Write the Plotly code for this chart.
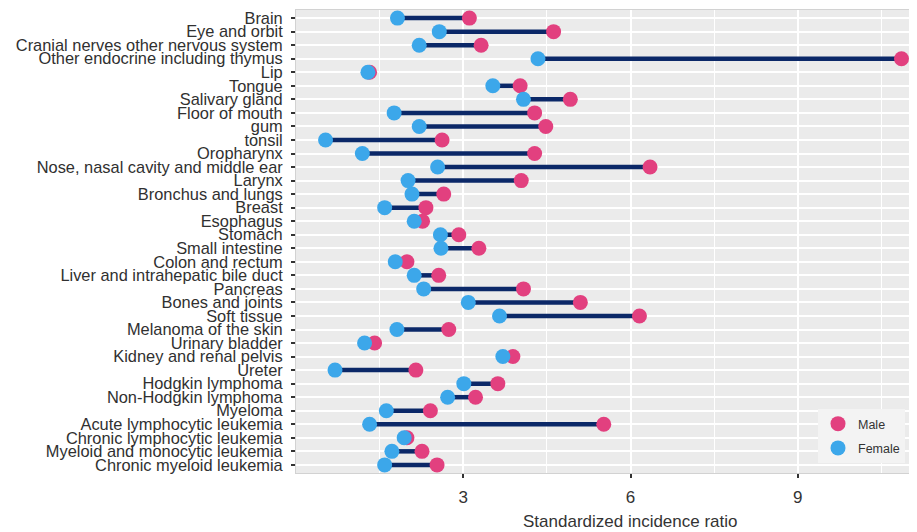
import plotly.graph_objects as go

categories = [
    "Brain", "Eye and orbit", "Cranial nerves other nervous system",
    "Other endocrine including thymus", "Lip", "Tongue", "Salivary gland",
    "Floor of mouth", "gum", "tonsil", "Oropharynx",
    "Nose, nasal cavity and middle ear", "Larynx", "Bronchus and lungs",
    "Breast", "Esophagus", "Stomach", "Small intestine", "Colon and rectum",
    "Liver and intrahepatic bile duct", "Pancreas", "Bones and joints",
    "Soft tissue", "Melanoma of the skin", "Urinary bladder",
    "Kidney and renal pelvis", "Ureter", "Hodgkin lymphoma",
    "Non-Hodgkin lymphoma", "Myeloma", "Acute lymphocytic leukemia",
    "Chronic lymphocytic leukemia", "Myeloid and monocytic leukemia",
    "Chronic myeloid leukemia",
]

male = [3.11, 4.62, 3.32, 10.86, 1.32, 4.02, 4.92, 4.28, 4.48, 2.62, 4.28,
        6.35, 4.04, 2.65, 2.33, 2.27, 2.92, 3.28, 1.99, 2.56, 4.08, 5.10,
        6.16, 2.74, 1.41, 3.89, 2.15, 3.62, 3.22, 2.41, 5.52, 1.99, 2.26,
        2.53]

female = [1.82, 2.57, 2.21, 4.34, 1.29, 3.53, 4.08, 1.76, 2.21, 0.53, 1.19,
          2.54, 2.01, 2.08, 1.59, 2.12, 2.59, 2.60, 1.78, 2.12, 2.29, 3.09,
          3.65, 1.81, 1.23, 3.71, 0.70, 3.01, 2.72, 1.62, 1.32, 1.94, 1.72,
          1.59]

x_ticks = [3, 6, 9]

seg_x, seg_y = [], []
for c, f, m in zip(categories, female, male):
    seg_x += [f, m, None]
    seg_y += [c, c, None]

fig = go.Figure()
fig.add_trace(go.Scatter(
    x=seg_x, y=seg_y, mode="lines",
    line=dict(color="#0b2868", width=4.5),
    showlegend=False, hoverinfo="skip",
))
fig.add_trace(go.Scatter(
    x=male, y=categories, mode="markers", name="Male", legendgroup="m",
    marker=dict(color="#e2407f", size=15),
))
fig.add_trace(go.Scatter(
    x=female, y=categories, mode="markers", name="Female", legendgroup="f",
    marker=dict(color="#3ca7ea", size=15),
))

# page body has an 8px margin, so the figure is drawn 8px smaller
OFF = 8
W, H = 917 - OFF, 532 - OFF
ml, mr, mt, mb = 296 - OFF, 0, 10 - OFF, H - (473 - OFF)
pw, ph = W - ml - mr, H - mt - mb

fig.update_layout(
    width=W, height=H,
    margin=dict(l=ml, r=mr, t=mt, b=mb, autoexpand=False),
    paper_bgcolor="white",
    plot_bgcolor="#ebebeb",
    font=dict(family="Liberation Sans, Arial, sans-serif", color="#303030"),
    showlegend=True,
    legend=dict(
        x=(818 - OFF - ml) / pw, y=(473 - 409) / ph,
        xanchor="left", yanchor="top",
        bgcolor="#f3f3f3",
        font=dict(size=12.5, color="#333333"),
        itemsizing="trace",
        itemwidth=30,
        tracegroupgap=5,
    ),
    xaxis=dict(
        range=[0, (917 - 295.5) / 55.8],
        tickvals=x_ticks,
        ticks="outside", ticklen=4, tickwidth=1.5, tickcolor="#333333",
        ticklabelstandoff=5,
        tickfont=dict(size=17, color="#333333"),
        showgrid=True, gridcolor="white", gridwidth=1.6,
        minor=dict(dtick=3, tick0=1.5, showgrid=True, gridcolor="white",
                   gridwidth=0.7),
        zeroline=False,
        showline=True, linecolor="#d2d2d2", linewidth=1, mirror=True,
    ),
    yaxis=dict(
        type="category",
        categoryorder="array", categoryarray=categories,
        tickmode="array", tickvals=categories, ticktext=categories,
        range=[len(categories) - 0.4, -0.6],
        ticks="outside", ticklen=4, tickwidth=1.5, tickcolor="#333333",
        ticklabelstandoff=5,
        tickfont=dict(size=16.4, color="#303030"),
        showgrid=True, gridcolor="white", gridwidth=1.6,
        zeroline=False,
        showline=True, linecolor="#d2d2d2", linewidth=1, mirror=True,
    ),
    annotations=[dict(
        text="Standardized incidence ratio",
        xref="paper", yref="paper",
        x=(630 - OFF - ml) / pw, y=-(521 - 473) / ph,
        xanchor="center", yanchor="middle", showarrow=False,
        font=dict(size=17, color="#333333"),
    )],
)

fig.write_html("out.html")
